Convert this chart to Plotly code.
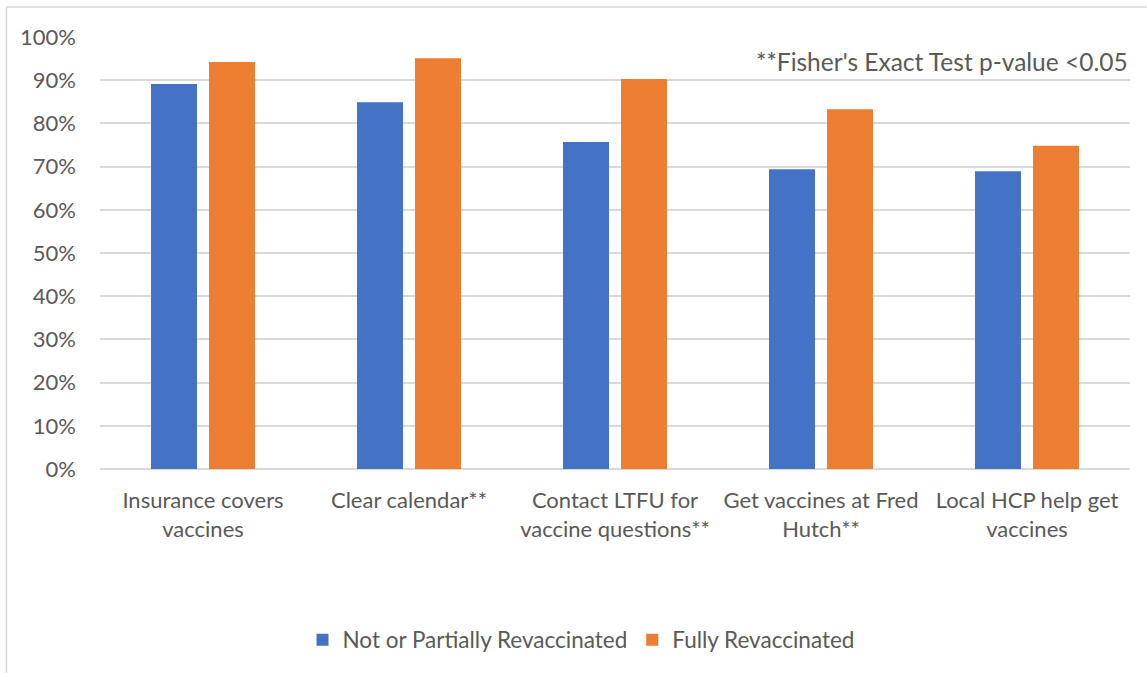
import plotly.graph_objects as go

categories = [
    "Insurance covers<br>vaccines",
    "Clear calendar**",
    "Contact LTFU for<br>vaccine questions**",
    "Get vaccines at Fred<br>Hutch**",
    "Local HCP help get<br>vaccines",
]
not_or_partial = [0.891, 0.849, 0.757, 0.694, 0.689]
fully = [0.942, 0.951, 0.903, 0.833, 0.748]
y_ticks = [0, 0.1, 0.2, 0.3, 0.4, 0.5, 0.6, 0.7, 0.8, 0.9, 1.0]
y_tick_labels = ["0%", "10%", "20%", "30%", "40%", "50%", "60%", "70%", "80%", "90%", "100%"]

FONT = "Lato"
TEXT = "#595959"
GRID = "#d9d9d9"

fig = go.Figure()
fig.add_trace(go.Bar(x=categories, y=not_or_partial, name="Not or Partially Revaccinated",
                     marker=dict(color="#4472c4", line=dict(width=0))))
fig.add_trace(go.Bar(x=categories, y=fully, name="Fully Revaccinated",
                     marker=dict(color="#ed7d31", line=dict(width=0))))

fig.update_layout(
    width=1147, height=673,
    margin=dict(l=100, r=17, t=37, b=204),
    paper_bgcolor="white", plot_bgcolor="white",
    barmode="group", bargap=0.437, bargroupgap=0.207,
    font=dict(family=FONT, size=22, color=TEXT),
    showlegend=True,
    legend=dict(orientation="h", x=0.467, xanchor="center", y=-0.396, yanchor="middle",
                font=dict(family=FONT, size=22.5, color=TEXT), itemwidth=30,
                traceorder="normal"),
    xaxis=dict(showgrid=False, showline=False, ticks="", tickfont=dict(size=22, color=TEXT),
               ticklabelstandoff=16),
    yaxis=dict(range=[0, 1.0], tickvals=y_ticks, ticktext=y_tick_labels,
               showgrid=True, gridcolor=GRID, gridwidth=1.5, zeroline=True,
               zerolinecolor=GRID, zerolinewidth=1.5, showline=False, ticks="",
               tickfont=dict(size=22, color=TEXT), ticklabelstandoff=23),
    annotations=[dict(text="**Fisher's Exact Test p-value <0.05", xref="paper", yref="paper",
                      x=1.0, y=0.944, xanchor="right", yanchor="middle", showarrow=False,
                      font=dict(family=FONT, size=24.5, color=TEXT))],
    shapes=[
        dict(type="line", xref="paper", yref="paper", x0=-0.0908, x1=-0.0908, y0=1.0694, y1=-0.48,
             line=dict(color=GRID, width=1.5)),
        dict(type="line", xref="paper", yref="paper", x0=-0.0908, x1=1.02, y0=1.0694, y1=1.0694,
             line=dict(color=GRID, width=1.5)),
    ],
)

fig.write_html("out.html")
